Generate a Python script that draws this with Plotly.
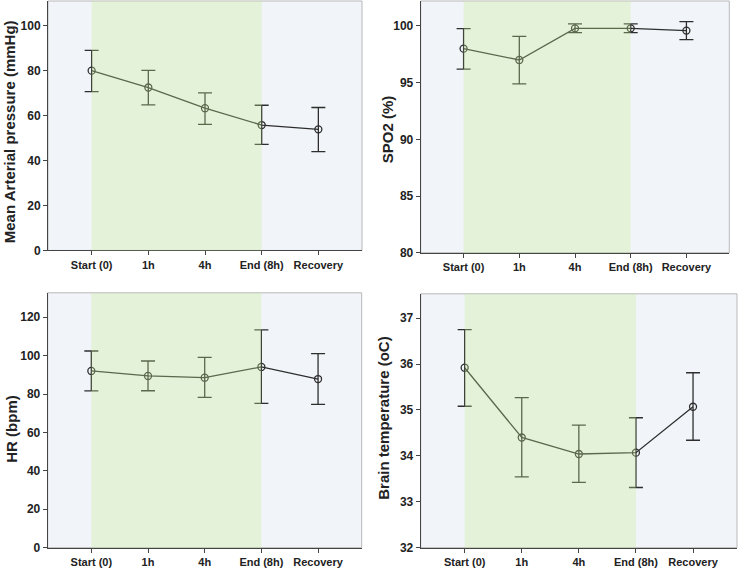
import plotly.graph_objects as go

categories = ["Start (0)", "1h", "4h", "End (8h)", "Recovery"]

map_mean = [80.0, 72.5, 63.3, 55.8, 53.9]
map_upper = [89.0, 80.1, 70.1, 64.6, 63.6]
map_lower = [70.7, 64.8, 56.1, 47.2, 44.0]

spo2_mean = [98.0, 97.0, 99.79, 99.79, 99.59]
spo2_upper = [99.76, 99.08, 100.18, 100.18, 100.38]
spo2_lower = [96.19, 94.89, 99.41, 99.41, 98.79]

hr_mean = [92.0, 89.4, 88.5, 94.1, 87.8]
hr_upper = [102.4, 97.2, 99.1, 113.4, 101.0]
hr_lower = [81.6, 81.7, 78.3, 75.1, 74.6]

temp_mean = [35.92, 34.40, 34.04, 34.07, 35.07]
temp_upper = [36.75, 35.27, 34.67, 34.83, 35.81]
temp_lower = [35.08, 33.54, 33.42, 33.31, 34.34]

W = 740
H = 578
S = H / 570.0

def ypx(top, bottom):
    return [1 - bottom * S / H, 1 - top * S / H]

panels = [
    dict(mean=map_mean, up=map_upper, lo=map_lower, title="Mean Arterial pressure (mmHg)",
         yrange=[0, 111], ticks=[0, 20, 40, 60, 80, 100],
         xdom=[48/W, 362/W], ydom=ypx(1, 250), tx=9, ty=132),
    dict(mean=spo2_mean, up=spo2_upper, lo=spo2_lower, title="SPO2 (%)",
         yrange=[80, 102.2], ticks=[80, 85, 90, 95, 100],
         xdom=[420.7/W, 729.3/W], ydom=ypx(1, 252.3), tx=387, ty=129),
    dict(mean=hr_mean, up=hr_upper, lo=hr_lower, title="HR (bpm)",
         yrange=[0, 132.7], ticks=[0, 20, 40, 60, 80, 100, 120],
         xdom=[47.7/W, 361.7/W], ydom=ypx(292.3, 546.7), tx=12, ty=428),
    dict(mean=temp_mean, up=temp_upper, lo=temp_lower, title="Brain temperature (oC)",
         yrange=[32, 37.53], ticks=[32, 33, 34, 35, 36, 37],
         xdom=[420.7/W, 737/W], ydom=ypx(293.3, 546.7), tx=384, ty=418),
]

fig = go.Figure()
line_col = "#2e2e2e"
tick_font = dict(family="Liberation Sans Narrow, Arial Narrow, Liberation Sans, Arial", size=12, color="#222", weight="bold")
xtick_font = dict(family="Liberation Sans, Arial", size=11, color="#222", weight="bold")
shapes = []
annotations = []
layout = {}

for i, p in enumerate(panels):
    n = "" if i == 0 else str(i + 1)
    xref = "x" + n
    yref = "y" + n
    plus = [u - m for u, m in zip(p["up"], p["mean"])]
    minus = [m - l for m, l in zip(p["mean"], p["lo"])]
    fig.add_trace(go.Scatter(
        x=list(range(len(categories))), y=p["mean"], xaxis=xref, yaxis=yref,
        mode="lines+markers",
        line=dict(color=line_col, width=1.3),
        marker=dict(symbol="circle-open", size=7, color=line_col, line=dict(width=1.3)),
        error_y=dict(type="data", symmetric=False, array=plus, arrayminus=minus,
                     color=line_col, thickness=1.3, width=7),
        showlegend=False, hoverinfo="skip",
    ))
    layout["xaxis" + n] = dict(
        domain=p["xdom"], anchor=yref, range=[-0.77, 4.77],
        tickmode="array", tickvals=list(range(len(categories))), ticktext=categories,
        showgrid=False, zeroline=False, showline=True, linecolor="#444", linewidth=1,
        ticks="outside", ticklen=4, tickcolor="#444", tickfont=xtick_font, fixedrange=True,
    )
    layout["yaxis" + n] = dict(
        domain=p["ydom"], anchor=xref, range=p["yrange"],
        tickmode="array", tickvals=p["ticks"],
        showgrid=False, zeroline=False, showline=True, linecolor="#444", linewidth=1,
        ticks="outside", ticklen=4, tickcolor="#444", tickfont=tick_font, fixedrange=True,
    )
    shapes.append(dict(type="rect", xref=xref + " domain", yref=yref + " domain",
                       x0=0, x1=1, y0=0, y1=1, line=dict(color="#b8b8b8", width=1),
                       fillcolor="#F1F4F9", layer="below"))
    shapes.append(dict(type="rect", xref=xref, yref=yref + " domain",
                       x0=0, x1=3, y0=0, y1=1, line=dict(width=0),
                       fillcolor="rgb(198,237,146)", opacity=0.3, layer="above"))
    annotations.append(dict(text="<b>" + p["title"] + "</b>", textangle=-90,
                            xref="paper", yref="paper", x=p["tx"]/W,
                            y=1 - p["ty"] * S / H,
                            xanchor="center", yanchor="middle", showarrow=False,
                            font=dict(family="Liberation Sans, Arial", size=15, color="#222")))

fig.update_layout(
    width=W, height=H, margin=dict(l=0, r=0, t=0, b=0), autosize=False,
    paper_bgcolor="white", plot_bgcolor="white",
    shapes=shapes, annotations=annotations,
    font=dict(family="Liberation Sans, Arial", color="#222"),
    **layout,
)

fig.write_html(
    "out.html",
    config={"displayModeBar": False, "staticPlot": True, "responsive": False},
    post_script=(
        "document.documentElement.style.margin='0';"
        "document.body.style.margin='0';"
        "document.body.style.overflow='hidden';"
    ),
)
